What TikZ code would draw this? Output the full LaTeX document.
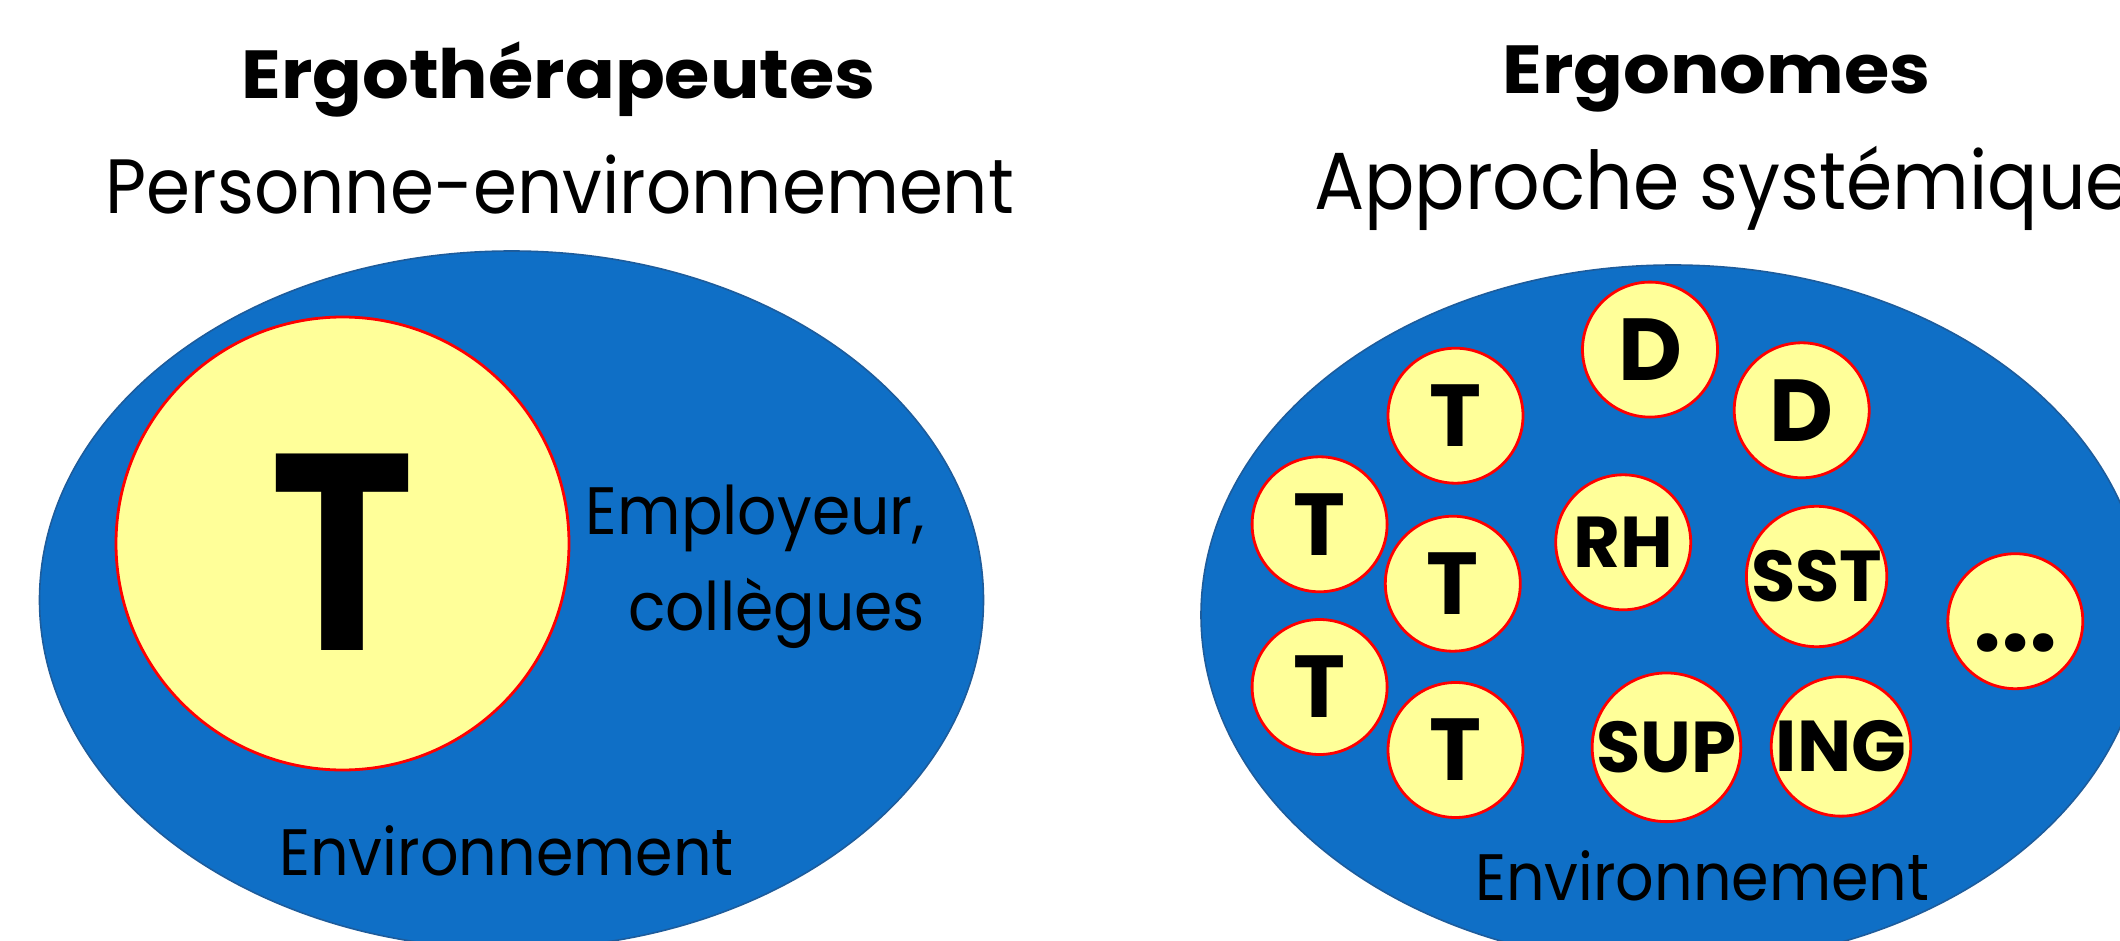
\documentclass[tikz,border=0pt]{standalone}
\usepackage{fontspec}
\setmainfont{Poppins}
\newfontfamily\regfont{Poppins}[FakeStretch=0.92]
\newfontfamily\ttlfont{Poppins}[FakeStretch=1.08]
\usetikzlibrary{shapes.geometric}
\definecolor{envblue}{HTML}{0F6FC6}
\definecolor{envedge}{HTML}{1D5C9C}
\definecolor{pyellow}{HTML}{FFFF99}
\begin{document}
\begin{tikzpicture}[x=0.5pt,y=-0.5pt,
  envzone/.style={ellipse, draw=envedge, line width=0.8pt, fill=envblue, inner sep=0pt},
  person/.style={circle, draw=red, line width=1.4pt, fill=pyellow, inner sep=0pt},
  member/.style={person, minimum size=67.5pt},
  titletxt/.style={anchor=base, font=\ttlfont\fontsize{34}{36}\selectfont\bfseries},
  subtxt/.style={anchor=base, font=\regfont\fontsize{38.5}{42}\selectfont},
  envtxt/.style={anchor=base, font=\regfont\fontsize{32.8}{38}\selectfont},
  bigT/.style={font=\fontsize{44}{44}\selectfont\bfseries},
  abbr/.style={font=\fontsize{36}{36}\selectfont\bfseries}
]
\useasboundingbox (0,0) rectangle (2120,941);
% left part
\node[titletxt] (title1) at (558.5,99) {Ergothérapeutes};
\node[subtxt] (sub1) at (560,214) {Personne-environnement};
\node[envzone, minimum width=472pt, minimum height=349pt] (env1) at (511.5,600) {};
\node[person, minimum size=226.5pt] (pers1) at (342.5,543.5) {};
\node[anchor=base, font=\fontsize{140}{140}\selectfont\bfseries] (bigt) at (342,650) {\scalebox{0.87}[1]{T}};
\node[anchor=base east, font=\regfont\fontsize{33.5}{36}\selectfont] (emp) at (932,534) {Employeur,};
\node[anchor=base east, font=\regfont\fontsize{33.5}{36}\selectfont] (col) at (932,630) {collègues};
\node[envtxt] (envlbl1) at (506.5,875) {Environnement};
% right part
\node[titletxt] (title2) at (1716.5,94) {Ergonomes};
\node[subtxt, anchor=base west, font=\regfont\fontsize{40.5}{44}\selectfont] (sub2) at (1307,210) {Approche systémique};
\node[envzone, minimum width=472pt, minimum height=350pt] (env2) at (1673,615) {};
\node[member, bigT] (t1) at (1455.5,415.7) {T};
\node[member, bigT] (d1) at (1650,349.6) {D};
\node[member, bigT] (d2) at (1801.7,410.3) {D};
\node[member, bigT] (t2) at (1319.6,524.3) {T};
\node[member, abbr] (rh) at (1623.2,542.3) {RH};
\node[member, bigT] (t3) at (1452.8,583.7) {T};
\node[member, abbr] (sst) at (1816.6,576.5) {SST};
\node[member] (etc) at (2015.3,621.2) {};
\node[anchor=base, font=\fontsize{50}{50}\selectfont\bfseries] (dots) at (2015.3,651) {...};
\node[member, bigT] (t4) at (1319.6,687) {T};
\node[member, bigT] (t5) at (1455.5,750) {T};
\node[member, abbr] (sup) at (1666.5,747.3) {SUP};
\node[member, abbr] (ing) at (1841,746.4) {ING};
\node[envtxt] (envlbl2) at (1702.3,900) {Environnement};
\end{tikzpicture}
\end{document}
